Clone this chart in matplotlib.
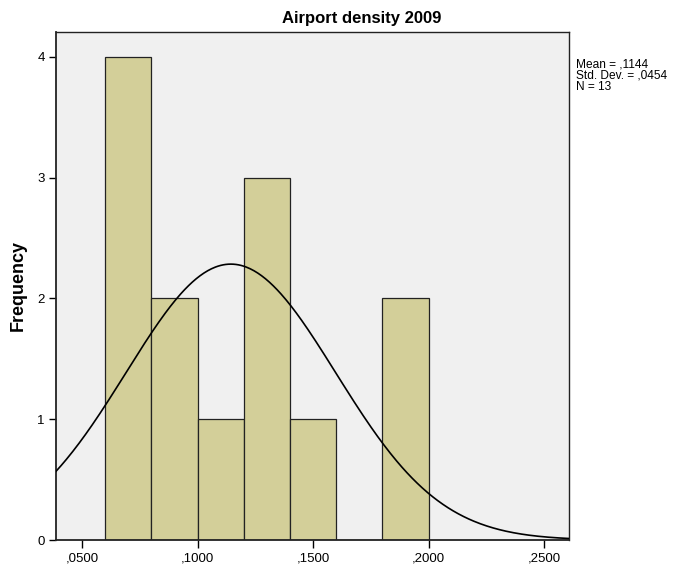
import numpy as np
import matplotlib.pyplot as plt

plt.rcParams['font.family'] = ['Liberation Sans', 'DejaVu Sans']

# airport density histogram, 0.02-wide bins
bin_edges = [0.06, 0.08, 0.10, 0.12, 0.14, 0.16, 0.18, 0.20]
counts = [4, 2, 1, 3, 1, 0, 2]
mean = 0.1144
std_dev = 0.0454
n_obs = 13
x_ticks = [0.05, 0.10, 0.15, 0.20, 0.25]
x_tick_labels = [',0500', ',1000', ',1500', ',2000', ',2500']
y_ticks = [0, 1, 2, 3, 4]

fig = plt.figure(figsize=(6.83, 5.67), dpi=100)
ax = fig.add_axes([0.082, 0.0476, 0.751, 0.896])
ax.set_facecolor('#f0f0f0')

widths = np.diff(bin_edges)
ax.bar(bin_edges[:-1], counts, width=widths, align='edge',
       color='#d3cf99', edgecolor='#222222', linewidth=0.9, zorder=2)

# normal curve scaled to the histogram
xmin, xmax = 0.0387, 0.2608
xs = np.linspace(xmin, xmax, 400)
bw = bin_edges[1] - bin_edges[0]
ys = n_obs * bw / (std_dev * np.sqrt(2 * np.pi)) * np.exp(-0.5 * ((xs - mean) / std_dev) ** 2)
ax.plot(xs, ys, color='black', linewidth=1.2, zorder=3)

ax.set_xlim(xmin, xmax)
ax.set_ylim(0, 4.207)
ax.set_xticks(x_ticks)
ax.set_xticklabels(x_tick_labels)
ax.set_yticks(y_ticks)
ax.tick_params(axis='both', direction='out', length=5, width=1, labelsize=9.5, pad=3)
ax.tick_params(axis='x', length=6)
for side in ax.spines.values():
    side.set_linewidth(1)
    side.set_color('#222222')
ax.spines['left'].set_linewidth(1.3)
ax.spines['bottom'].set_linewidth(1.3)

ax.set_ylabel('Frequency', fontsize=13, fontweight='bold', labelpad=8)
fig.text(0.53, 0.968, 'Airport density 2009', ha='center', va='center',
         fontsize=12, fontweight='bold')
fig.text(0.843, 0.897, f'Mean = ,{mean:.4f}'.replace('0.', '') + '\n'
         + f'Std. Dev. = ,{std_dev:.4f}'.replace('0.', '') + f'\nN = {n_obs}',
         ha='left', va='top', fontsize=8.6, linespacing=0.92)

fig.savefig('out.png', dpi=100)
